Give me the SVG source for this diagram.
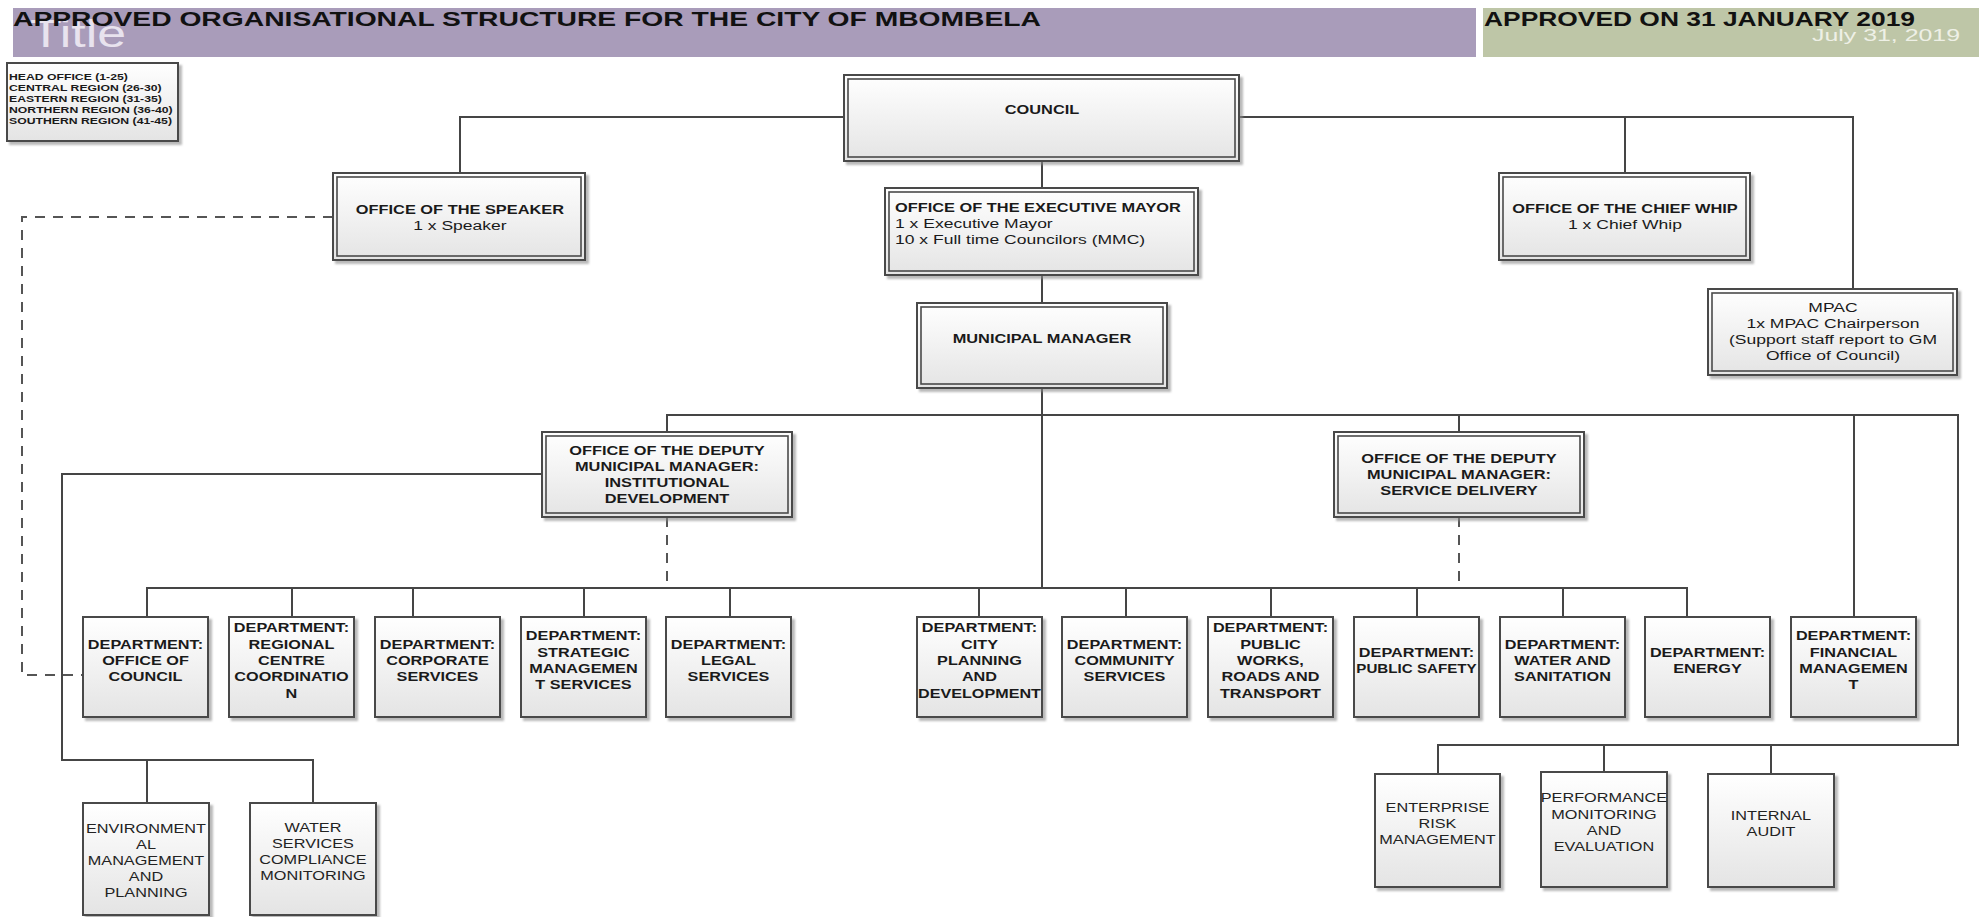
<svg xmlns="http://www.w3.org/2000/svg" width="1986" height="917" viewBox="0 0 1986 917">
<style>
text { font-family: "Liberation Sans", Arial, sans-serif; fill: #1a1a1a; }
.t { transform-box: fill-box; transform-origin: 50% 50%; transform: scaleX(1.28); }
.tl { transform-box: fill-box; transform-origin: 0% 50%; transform: scaleX(1.28); }
.lg { transform-box: fill-box; transform-origin: 0% 50%; transform: scaleX(1.33); font-weight: bold; font-size: 9.2px; }
.b { font-weight: bold; font-size: 12.8px; }
.r { font-size: 13.7px; }
.d { font-weight: bold; font-size: 12.7px; }
.n { font-size: 12.7px; fill: #222; }
.o { fill: url(#gf); stroke: #4a4a4a; stroke-width: 2; filter: url(#sh); }
.i { fill: none; stroke: #4a4a4a; stroke-width: 1.6; }
.s { fill: url(#gf); stroke: #4a4a4a; stroke-width: 2; filter: url(#sh); }
.c { fill: none; stroke: #454545; stroke-width: 2; }
.dash { fill: none; stroke: #555; stroke-width: 2; stroke-dasharray: 10 8; }
</style>
<defs>
<linearGradient id="gf" x1="0" y1="0" x2="0" y2="1">
<stop offset="0" stop-color="#ffffff"/>
<stop offset="1" stop-color="#e4e4e4"/>
</linearGradient>
<filter id="sh" x="-10%" y="-10%" width="125%" height="125%">
<feDropShadow dx="3" dy="3" stdDeviation="1.2" flood-color="#8a8a8a" flood-opacity="0.6"/>
</filter>
</defs>
<rect width="1986" height="917" fill="#ffffff"/>

<g id="header">
<rect x="13" y="8" width="1463" height="49" fill="#a99cba"/>
<rect x="1483" y="8" width="496" height="49" fill="#bec6a7"/>
<text x="30" y="47" font-size="39" textLength="96" lengthAdjust="spacingAndGlyphs" style="fill:#e8e3ee">Title</text>
<text x="13" y="26" font-size="21" font-weight="bold" textLength="1028" lengthAdjust="spacingAndGlyphs" style="fill:#111">APPROVED ORGANISATIONAL STRUCTURE FOR THE CITY OF MBOMBELA</text>
<text x="1484" y="26" font-size="21" font-weight="bold" textLength="431" lengthAdjust="spacingAndGlyphs" style="fill:#111">APPROVED ON 31 JANUARY 2019</text>
<text x="1812" y="41" font-size="17" textLength="148" lengthAdjust="spacingAndGlyphs" style="fill:#eef0e6">July 31, 2019</text>
</g>

<g id="legend">
<rect class="s" x="7" y="63" width="171" height="78"/>
<text class="lg" x="9" y="80">HEAD OFFICE (1-25)</text>
<text class="lg" x="9" y="91">CENTRAL REGION (26-30)</text>
<text class="lg" x="9" y="102">EASTERN REGION (31-35)</text>
<text class="lg" x="9" y="113">NORTHERN REGION (36-40)</text>
<text class="lg" x="9" y="124">SOUTHERN REGION (41-45)</text>
</g>

<g id="connectors">
<path class="c" d="M844,117 H460 V173"/>
<path class="c" d="M1239,117 H1853 V289"/>
<path class="c" d="M1625,117 V173"/>
<path class="c" d="M1042,161 V188 M1042,275 V303 M1042,388 V588"/>
<path class="c" d="M667,432 V415 H1958 V745 H1438 V774"/>
<path class="c" d="M1604,745 V772 M1771,745 V774"/>
<path class="c" d="M1459,415 V432"/>
<path class="c" d="M1854,415 V617"/>
<path class="c" d="M542,474 H62 V760 H313 V803 M147,760 V803"/>
<path class="c" d="M147,617 V588 H1687 V617"/>
<path class="c" d="M292,588 V617 M413,588 V617 M584,588 V617 M730,588 V617 M979,588 V617 M1126,588 V617 M1271,588 V617 M1417,588 V617 M1563,588 V617"/>
<path class="dash" d="M333,217 H22 V675 H83"/>
<path class="dash" d="M667,517 V588"/>
<path class="dash" d="M1459,517 V588"/>
</g>

<g id="council">
<rect class="o" x="844" y="75" width="395" height="86"/>
<rect class="i" x="848" y="79" width="387" height="78"/>
<text class="t" text-anchor="middle"><tspan class="b" x="1042" y="114">COUNCIL</tspan></text>
</g>

<g id="speaker">
<rect class="o" x="333" y="173" width="252" height="87"/>
<rect class="i" x="337" y="177" width="244" height="79"/>
<text class="t" text-anchor="middle"><tspan class="b" x="460" y="214">OFFICE OF THE SPEAKER</tspan><tspan class="r" x="460" y="230">1 x Speaker</tspan></text>
</g>

<g id="executive-mayor">
<rect class="o" x="885" y="188" width="313" height="87"/>
<rect class="i" x="889" y="192" width="305" height="79"/>
<text class="tl"><tspan class="b" x="895" y="212">OFFICE OF THE EXECUTIVE MAYOR</tspan><tspan class="r" x="895" y="228">1 x Executive Mayor</tspan><tspan class="r" x="895" y="244">10 x Full time Councilors (MMC)</tspan></text>
</g>

<g id="chief-whip">
<rect class="o" x="1499" y="173" width="251" height="87"/>
<rect class="i" x="1503" y="177" width="243" height="79"/>
<text class="t" text-anchor="middle"><tspan class="b" x="1625" y="213">OFFICE OF THE CHIEF WHIP</tspan><tspan class="r" x="1625" y="229">1 x Chief Whip</tspan></text>
</g>

<g id="municipal-manager">
<rect class="o" x="917" y="303" width="250" height="85"/>
<rect class="i" x="921" y="307" width="242" height="77"/>
<text class="t" text-anchor="middle"><tspan class="b" x="1042" y="343">MUNICIPAL MANAGER</tspan></text>
</g>

<g id="mpac">
<rect class="o" x="1708" y="289" width="249" height="86"/>
<rect class="i" x="1712" y="293" width="241" height="78"/>
<text class="t" text-anchor="middle"><tspan class="r" x="1833" y="312">MPAC</tspan><tspan class="r" x="1833" y="328">1x MPAC Chairperson</tspan><tspan class="r" x="1833" y="344">(Support staff report to GM</tspan><tspan class="r" x="1833" y="360">Office of Council)</tspan></text>
</g>

<g id="dmm-institutional">
<rect class="o" x="542" y="432" width="250" height="85"/>
<rect class="i" x="546" y="436" width="242" height="77"/>
<text class="t" text-anchor="middle"><tspan class="b" x="667" y="455">OFFICE OF THE DEPUTY</tspan><tspan class="b" x="667" y="471">MUNICIPAL MANAGER:</tspan><tspan class="b" x="667" y="487">INSTITUTIONAL</tspan><tspan class="b" x="667" y="503">DEVELOPMENT</tspan></text>
</g>

<g id="dmm-service-delivery">
<rect class="o" x="1334" y="432" width="250" height="85"/>
<rect class="i" x="1338" y="436" width="242" height="77"/>
<text class="t" text-anchor="middle"><tspan class="b" x="1459" y="463">OFFICE OF THE DEPUTY</tspan><tspan class="b" x="1459" y="479">MUNICIPAL MANAGER:</tspan><tspan class="b" x="1459" y="495">SERVICE DELIVERY</tspan></text>
</g>

<g id="dept-office-of-council">
<rect class="s" x="83" y="617" width="125" height="100"/>
<text class="t" text-anchor="middle"><tspan class="d" x="145.5" y="648.7">DEPARTMENT:</tspan><tspan class="d" x="145.5" y="665">OFFICE OF</tspan><tspan class="d" x="145.5" y="681.3">COUNCIL</tspan></text>
</g>
<g id="dept-regional-centre">
<rect class="s" x="229" y="617" width="125" height="100"/>
<text class="t" text-anchor="middle"><tspan class="d" x="291.5" y="632.4">DEPARTMENT:</tspan><tspan class="d" x="291.5" y="648.7">REGIONAL</tspan><tspan class="d" x="291.5" y="665">CENTRE</tspan><tspan class="d" x="291.5" y="681.3">COORDINATIO</tspan><tspan class="d" x="291.5" y="697.6">N</tspan></text>
</g>
<g id="dept-corporate">
<rect class="s" x="375" y="617" width="125" height="100"/>
<text class="t" text-anchor="middle"><tspan class="d" x="437.5" y="648.7">DEPARTMENT:</tspan><tspan class="d" x="437.5" y="665">CORPORATE</tspan><tspan class="d" x="437.5" y="681.3">SERVICES</tspan></text>
</g>
<g id="dept-strategic">
<rect class="s" x="521" y="617" width="125" height="100"/>
<text class="t" text-anchor="middle"><tspan class="d" x="583.5" y="640.5">DEPARTMENT:</tspan><tspan class="d" x="583.5" y="656.8">STRATEGIC</tspan><tspan class="d" x="583.5" y="673.2">MANAGEMEN</tspan><tspan class="d" x="583.5" y="689.5">T SERVICES</tspan></text>
</g>
<g id="dept-legal">
<rect class="s" x="666" y="617" width="125" height="100"/>
<text class="t" text-anchor="middle"><tspan class="d" x="728.5" y="648.7">DEPARTMENT:</tspan><tspan class="d" x="728.5" y="665">LEGAL</tspan><tspan class="d" x="728.5" y="681.3">SERVICES</tspan></text>
</g>
<g id="dept-city-planning">
<rect class="s" x="917" y="617" width="125" height="100"/>
<text class="t" text-anchor="middle"><tspan class="d" x="979.5" y="632.4">DEPARTMENT:</tspan><tspan class="d" x="979.5" y="648.7">CITY</tspan><tspan class="d" x="979.5" y="665">PLANNING</tspan><tspan class="d" x="979.5" y="681.3">AND</tspan><tspan class="d" x="979.5" y="697.6" textLength="96" lengthAdjust="spacingAndGlyphs">DEVELOPMENT</tspan></text>
</g>
<g id="dept-community">
<rect class="s" x="1062" y="617" width="125" height="100"/>
<text class="t" text-anchor="middle"><tspan class="d" x="1124.5" y="648.7">DEPARTMENT:</tspan><tspan class="d" x="1124.5" y="665">COMMUNITY</tspan><tspan class="d" x="1124.5" y="681.3">SERVICES</tspan></text>
</g>
<g id="dept-public-works">
<rect class="s" x="1208" y="617" width="125" height="100"/>
<text class="t" text-anchor="middle"><tspan class="d" x="1270.5" y="632.4">DEPARTMENT:</tspan><tspan class="d" x="1270.5" y="648.7">PUBLIC</tspan><tspan class="d" x="1270.5" y="665">WORKS,</tspan><tspan class="d" x="1270.5" y="681.3">ROADS AND</tspan><tspan class="d" x="1270.5" y="697.6">TRANSPORT</tspan></text>
</g>
<g id="dept-public-safety">
<rect class="s" x="1354" y="617" width="125" height="100"/>
<text class="t" text-anchor="middle"><tspan class="d" x="1416.5" y="656.8">DEPARTMENT:</tspan><tspan class="d" x="1416.5" y="673.2" textLength="94" lengthAdjust="spacingAndGlyphs">PUBLIC SAFETY</tspan></text>
</g>
<g id="dept-water-sanitation">
<rect class="s" x="1500" y="617" width="125" height="100"/>
<text class="t" text-anchor="middle"><tspan class="d" x="1562.5" y="648.7">DEPARTMENT:</tspan><tspan class="d" x="1562.5" y="665">WATER AND</tspan><tspan class="d" x="1562.5" y="681.3">SANITATION</tspan></text>
</g>
<g id="dept-energy">
<rect class="s" x="1645" y="617" width="125" height="100"/>
<text class="t" text-anchor="middle"><tspan class="d" x="1707.5" y="656.8">DEPARTMENT:</tspan><tspan class="d" x="1707.5" y="673.2">ENERGY</tspan></text>
</g>
<g id="dept-financial">
<rect class="s" x="1791" y="617" width="125" height="100"/>
<text class="t" text-anchor="middle"><tspan class="d" x="1853.5" y="640.5">DEPARTMENT:</tspan><tspan class="d" x="1853.5" y="656.8">FINANCIAL</tspan><tspan class="d" x="1853.5" y="673.2">MANAGEMEN</tspan><tspan class="d" x="1853.5" y="689.5">T</tspan></text>
</g>

<g id="environmental-management">
<rect class="s" x="83" y="803" width="126" height="112"/>
<text class="t" text-anchor="middle"><tspan class="n" x="146" y="833">ENVIRONMENT</tspan><tspan class="n" x="146" y="849">AL</tspan><tspan class="n" x="146" y="865">MANAGEMENT</tspan><tspan class="n" x="146" y="881">AND</tspan><tspan class="n" x="146" y="897">PLANNING</tspan></text>
</g>
<g id="water-services-compliance">
<rect class="s" x="250" y="803" width="126" height="112"/>
<text class="t" text-anchor="middle"><tspan class="n" x="313" y="832">WATER</tspan><tspan class="n" x="313" y="848">SERVICES</tspan><tspan class="n" x="313" y="864">COMPLIANCE</tspan><tspan class="n" x="313" y="880">MONITORING</tspan></text>
</g>
<g id="enterprise-risk">
<rect class="s" x="1375" y="774" width="125" height="113"/>
<text class="t" text-anchor="middle"><tspan class="n" x="1437.5" y="812">ENTERPRISE</tspan><tspan class="n" x="1437.5" y="828">RISK</tspan><tspan class="n" x="1437.5" y="844">MANAGEMENT</tspan></text>
</g>
<g id="performance-monitoring">
<rect class="s" x="1541" y="772" width="126" height="115"/>
<text class="t" text-anchor="middle"><tspan class="n" x="1604" y="802">PERFORMANCE</tspan><tspan class="n" x="1604" y="819">MONITORING</tspan><tspan class="n" x="1604" y="835">AND</tspan><tspan class="n" x="1604" y="851">EVALUATION</tspan></text>
</g>
<g id="internal-audit">
<rect class="s" x="1708" y="774" width="126" height="113"/>
<text class="t" text-anchor="middle"><tspan class="n" x="1771" y="820">INTERNAL</tspan><tspan class="n" x="1771" y="836">AUDIT</tspan></text>
</g>
</svg>
